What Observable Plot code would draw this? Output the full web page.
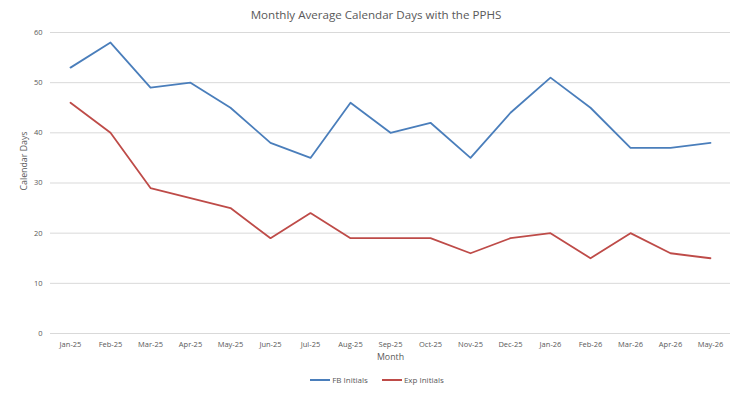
<!DOCTYPE html>
<html>
<head>
<meta charset="utf-8">
<script src="https://cdn.jsdelivr.net/npm/d3@7"></script>
<script src="https://cdn.jsdelivr.net/npm/@observablehq/plot@0.6"></script>
<style>
  html, body { margin: 0; padding: 0; background: #fff; }
  body { width: 750px; height: 400px; font-family: "Open Sans", "Noto Sans", sans-serif; color: #595959; }
  #title { height: 24px; line-height: 30px; text-align: center; font-size: 11.6px; color: #595959; padding-left: 2px; }
  #legend { display: flex; justify-content: center; gap: 14px; font-size: 8px; color: #595959; margin-top: 10px; padding-left: 4px; }
  #legend .item { display: flex; align-items: center; gap: 2px; }
  #legend .sw { width: 20px; height: 2px; display: inline-block; }
  g[aria-label="y-axis label"] text, g[aria-label="x-axis label"] text { font-size: 8.8px; }
</style>
</head>
<body>
<div id="title">Monthly Average Calendar Days with the PPHS</div>
<div id="chart"></div>
<div id="legend"></div>
<script>
const months = ["Jan-25","Feb-25","Mar-25","Apr-25","May-25","Jun-25","Jul-25","Aug-25","Sep-25","Oct-25","Nov-25","Dec-25","Jan-26","Feb-26","Mar-26","Apr-26","May-26"];
const fbInitials = [53,58,49,50,45,38,35,46,40,42,35,44,51,45,37,37,38];
const expInitials = [46,40,29,27,25,19,24,19,19,19,16,19,20,15,20,16,15];
const seriesNames = ["FB Initials","Exp Initials"];
const seriesColors = ["#4a7ebb","#be4b48"];
const yTicks = [0,10,20,30,40,50,60];

const rows = [];
months.forEach((m, i) => {
  rows.push({month: m, value: fbInitials[i], series: seriesNames[0]});
  rows.push({month: m, value: expInitials[i], series: seriesNames[1]});
});

const plot = Plot.plot({
  width: 750,
  height: 340,
  marginTop: 8,
  marginBottom: 31,
  marginLeft: 50,
  marginRight: 20,
  style: {fontFamily: "'Open Sans', 'Noto Sans', sans-serif", fontSize: "7.5px", color: "#595959", background: "#fff"},
  x: {type: "point", domain: months, padding: 0.5},
  y: {domain: [0, 60]},
  color: {domain: seriesNames, range: seriesColors},
  marks: [
    Plot.gridY(yTicks, {stroke: "#d9d9d9", strokeOpacity: 1, strokeWidth: 1}),
    Plot.axisY({ticks: yTicks, tickSize: 0, tickPadding: 8, label: "Calendar Days", labelAnchor: "center", labelArrow: "none", labelOffset: 30, fontSize: 7.5, fill: "#595959"}),
    Plot.axisX({tickSize: 0, tickPadding: 8, label: "Month", labelAnchor: "center", labelArrow: "none", labelOffset: 26, fontSize: 7.5, fill: "#595959"}),
    Plot.line(rows, {x: "month", y: "value", z: "series", stroke: "series", strokeWidth: 1.8, strokeLinejoin: "round"})
  ]
});
document.getElementById("chart").appendChild(plot);

// nudge the y-axis title up to match the reference placement
d3.select(plot).selectAll('g[aria-label="y-axis label"]').each(function () {
  const g = d3.select(this);
  const t = g.attr("transform") || "";
  g.attr("transform", "translate(0,-22) " + t);
});

const legend = document.getElementById("legend");
seriesNames.forEach((name, i) => {
  const item = document.createElement("span");
  item.className = "item";
  const sw = document.createElement("span");
  sw.className = "sw";
  sw.style.background = seriesColors[i];
  const t = document.createElement("span");
  t.textContent = name;
  item.appendChild(sw);
  item.appendChild(t);
  legend.appendChild(item);
});
</script>
</body>
</html>
